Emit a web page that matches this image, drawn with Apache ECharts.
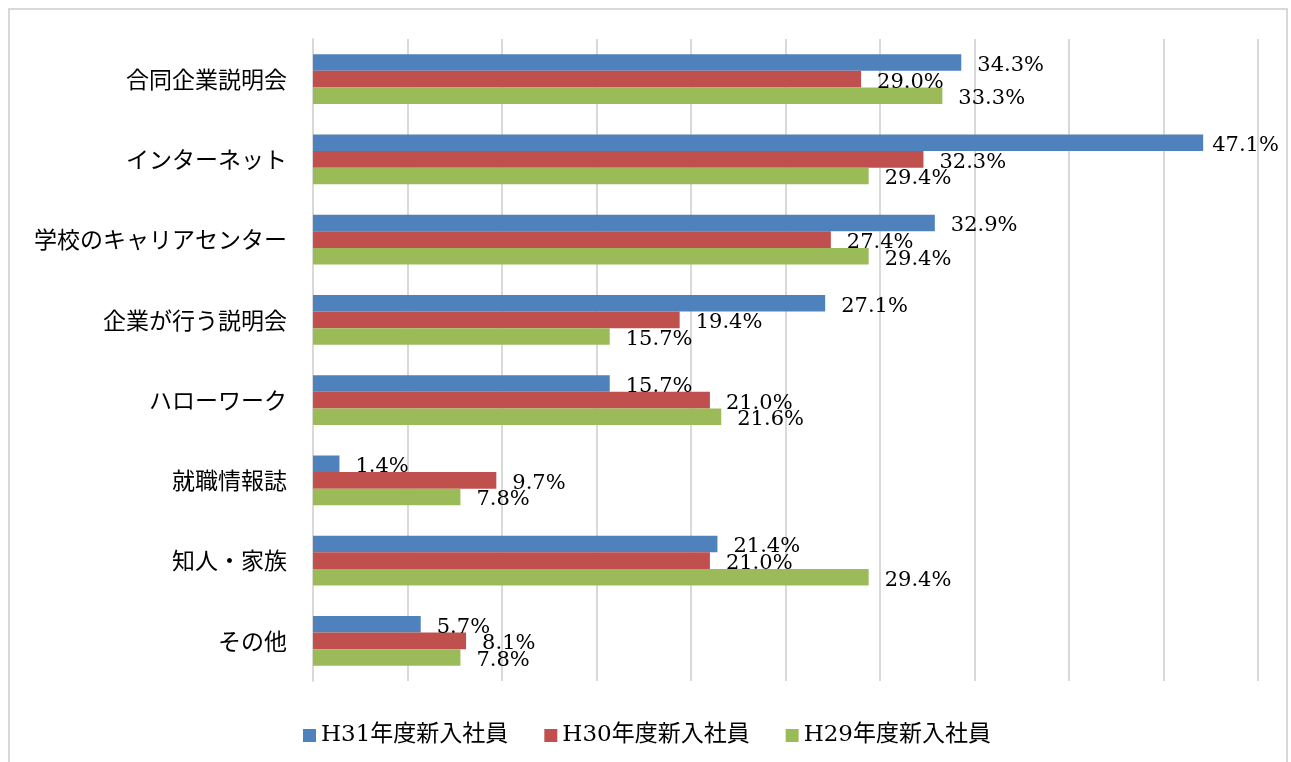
<!DOCTYPE html>
<html>
<head>
<meta charset="utf-8">
<script src="https://cdn.jsdelivr.net/npm/echarts@6/dist/echarts.min.js"></script>
<style>
html,body{margin:0;padding:0;background:#fff;}
#chart{width:1291px;height:762px;}
</style>
</head>
<body>
<div id="chart"></div>
<script>
const categories = ['合同企業説明会','インターネット','学校のキャリアセンター','企業が行う説明会','ハローワーク','就職情報誌','知人・家族','その他'];
const seriesNames = ['H31年度新入社員','H30年度新入社員','H29年度新入社員'];
const h31 = [34.3, 47.1, 32.9, 27.1, 15.7, 1.4, 21.4, 5.7];
const h30 = [29.0, 32.3, 27.4, 19.4, 21.0, 9.7, 21.0, 8.1];
const h29 = [33.3, 29.4, 29.4, 15.7, 21.6, 7.8, 29.4, 7.8];
const colors = ['#4F81BD','#C0504D','#9BBB59'];

const numFont = 'DejaVu Serif, Liberation Serif, serif';
const jpFont = 'Noto Sans CJK JP, sans-serif';

function mkSeries(name, vals, color) {
  return {
    name: name,
    type: 'bar',
    barGap: '0%',
    barCategoryGap: '38%',
    itemStyle: { color: color },
    data: vals.map(v => ({
      value: v,
      label: { distance: v > 45 ? 9 : 16 }
    })),
    label: {
      show: true,
      position: 'right',
      distance: 16,
      offset: [0, 3],
      color: '#000',
      fontFamily: numFont,
      fontSize: 21,
      formatter: p => p.value.toFixed(1) + '%'
    }
  };
}

const chart = echarts.init(document.getElementById('chart'));
chart.setOption({
  animation: false,
  backgroundColor: '#fff',
  color: colors,
  graphic: [{
    type: 'rect',
    shape: { x: 9, y: 9, width: 1278, height: 780 },
    style: { fill: 'none', stroke: '#D9D9D9', lineWidth: 2 },
    silent: true
  }],
  grid: { left: 313, right: 33, top: 39, bottom: 81 },
  xAxis: {
    type: 'value',
    min: 0, max: 50, interval: 5,
    axisLabel: { show: false },
    axisLine: { show: false },
    axisTick: { show: false },
    splitLine: { show: true, lineStyle: { color: '#D9D9D9', width: 2 } }
  },
  yAxis: {
    type: 'category',
    inverse: true,
    data: categories,
    axisLine: { show: true, lineStyle: { color: '#D9D9D9', width: 2 } },
    axisTick: { show: false },
    axisLabel: { color: '#000', fontFamily: jpFont, fontSize: 23, margin: 26 }
  },
  legend: {
    left: 298, top: 719,
    itemWidth: 13, itemHeight: 13, itemGap: 36,
    icon: 'rect',
    textStyle: { color: '#000', fontFamily: numFont + ', ' + jpFont, fontSize: 23 },
    data: seriesNames
  },
  series: [
    mkSeries(seriesNames[0], h31, colors[0]),
    mkSeries(seriesNames[1], h30, colors[1]),
    mkSeries(seriesNames[2], h29, colors[2])
  ]
});
</script>
</body>
</html>
